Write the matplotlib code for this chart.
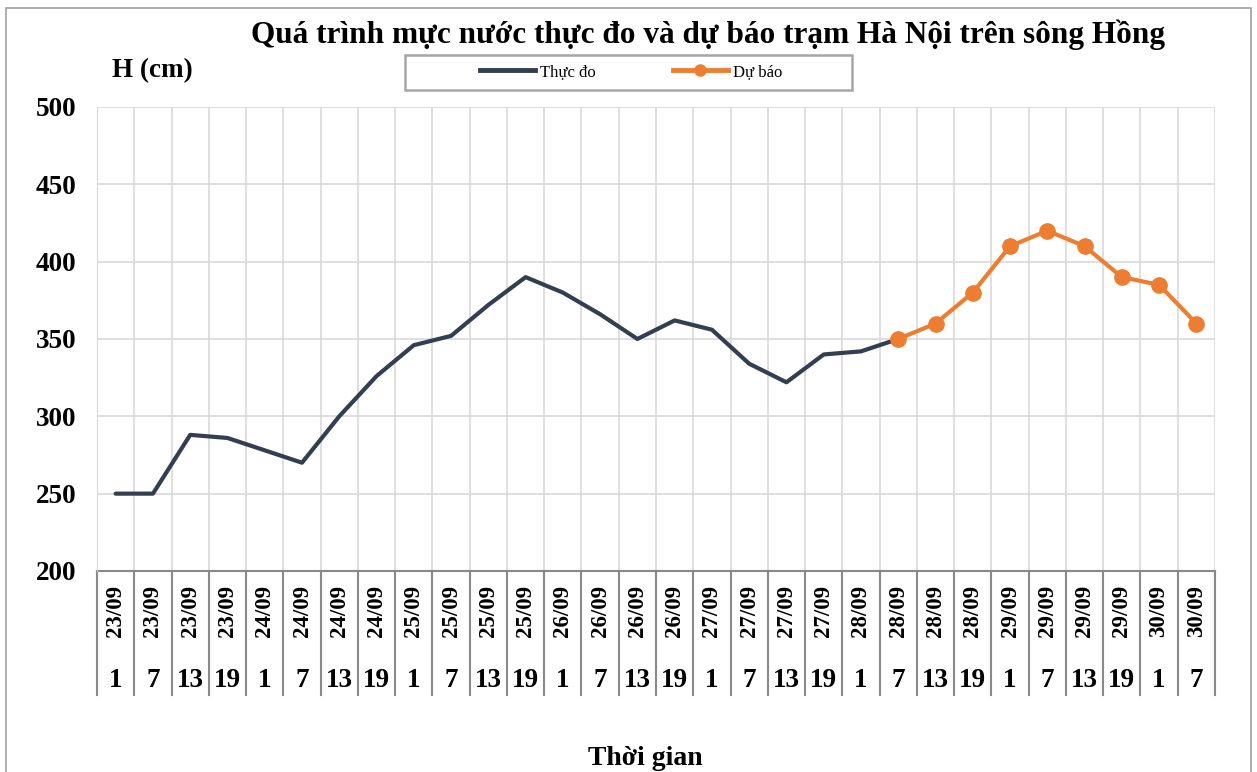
import matplotlib.pyplot as plt
from matplotlib.lines import Line2D
from matplotlib.patches import Rectangle

plt.rcParams['font.family'] = ['Liberation Serif', 'DejaVu Serif']

dates = ['23/09'] * 4 + ['24/09'] * 4 + ['25/09'] * 4 + ['26/09'] * 4 + \
        ['27/09'] * 4 + ['28/09'] * 4 + ['29/09'] * 4 + ['30/09'] * 2
hours = ['1', '7', '13', '19'] * 7 + ['1', '7']

# observed water level, 23/09 1h -> 28/09 7h
thuc_do = [250, 250, 288, 286, 278, 270, 300, 326, 346, 352, 372, 390,
           380, 366, 350, 362, 356, 334, 322, 340, 342, 350]
# forecast, 28/09 7h -> 30/09 7h
du_bao = [350, 360, 380, 410, 420, 410, 390, 385, 360]

n = len(dates)
x_obs = list(range(len(thuc_do)))
x_fc = list(range(len(thuc_do) - 1, len(thuc_do) - 1 + len(du_bao)))

fig = plt.figure(figsize=(12.57, 7.72), dpi=100)
fig.patches.append(Rectangle((0.005, -0.02), 0.99, 1.01, transform=fig.transFigure,
                             fill=False, edgecolor='#a0a0a0', lw=1.2))
ax = fig.add_axes([0.0772, 0.2604, 0.8894, 0.601])

ax.plot(x_obs, thuc_do, color='#333f50', lw=3, solid_capstyle='round', zorder=3)
ax.plot(x_fc, du_bao, color='#ed7d31', lw=3, marker='o', markersize=11, zorder=4)

ax.set_xlim(-0.5, n - 0.5)
ax.set_ylim(200, 500)
ax.set_yticks(range(200, 501, 50))
ax.set_xticks([i + 0.5 for i in range(-1, n)], minor=False)
ax.set_xticklabels([])
ax.tick_params(axis='x', length=0)
ax.tick_params(axis='y', length=0, pad=15, labelsize=19.5)
for t in ax.get_yticklabels():
    t.set_fontweight('bold')
ax.grid(True, color='#d9d9d9', lw=1.2)
for s in ax.spines.values():
    s.set_visible(False)
ax.spines['left'].set_visible(True)
ax.spines['left'].set_color('#d9d9d9')

# category table below the axis
trans = ax.get_xaxis_transform()
ax.plot([-0.5, n - 0.5], [0, 0], color='#898989', lw=1.5, transform=trans, clip_on=False)
for i in range(n + 1):
    ax.plot([i - 0.5, i - 0.5], [0, -0.268], color='#898989', lw=1.5,
            transform=trans, clip_on=False)
for i in range(n):
    ax.text(i, -0.087, dates[i], rotation=90, ha='center', va='center',
            fontsize=16.5, fontweight='bold', transform=trans)
    ax.text(i, -0.237, hours[i], ha='center', va='center',
            fontsize=19.5, fontweight='bold', transform=trans)

fig.text(0.563, 0.955, 'Quá trình mực nước thực đo và dự báo trạm Hà Nội trên sông Hồng',
         ha='center', va='center', fontsize=22.5, fontweight='bold')
fig.text(0.121, 0.908, 'H (cm)', ha='center', va='center', fontsize=19.5, fontweight='bold')
fig.text(0.513, 0.018, 'Thời gian', ha='center', va='center', fontsize=20, fontweight='bold')

# legend frame (drawn separately so it can be wider than its content)
fig.patches.append(Rectangle((405 / 1257, 1 - 90 / 772), 447 / 1257, 35 / 772,
                             transform=fig.transFigure, fill=False,
                             edgecolor='#a6a6a6', lw=1.8))
handles = [Line2D([], [], color='#333f50', lw=3.5),
           Line2D([], [], color='#ed7d31', lw=3.5, marker='o', markersize=8)]
leg = fig.legend(handles, ['Thực đo', 'Dự báo'], loc='center',
                 bbox_to_anchor=(0.502, 0.907), ncol=2, fontsize=12, frameon=False,
                 handlelength=3.3, handletextpad=0.3, columnspacing=4.6,
                 borderpad=0.2, borderaxespad=0)

fig.savefig('out.png', dpi=100)
